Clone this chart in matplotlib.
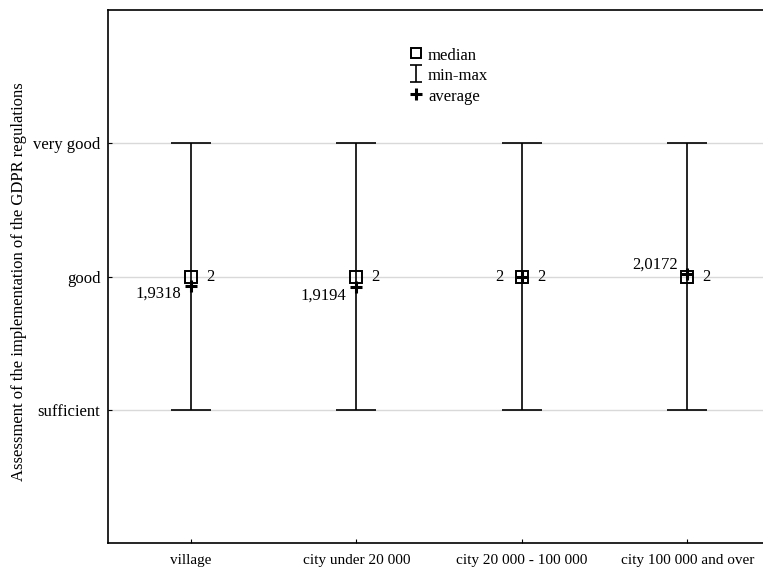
import numpy as np
import matplotlib
matplotlib.use('Agg')
import matplotlib.pyplot as plt
from matplotlib.lines import Line2D

matplotlib.rcParams.update({
    'font.family': 'serif',
    'font.serif': ['Liberation Serif', 'DejaVu Serif'],
    'font.size': 12,
    'xtick.direction': 'in',
    'ytick.direction': 'in',
    'xtick.major.size': 3,
    'ytick.major.size': 3,
})

# ── data ──────────────────────────────────────────────────────────────────
categories = ['village', 'city under 20 000', 'city 20 000 - 100 000',
              'city 100 000 and over']
medians  = [2, 2, 2, 2]
mins     = [1, 1, 1, 1]
maxs     = [3, 3, 3, 3]
averages = [1.9318, 1.9194, 2.0, 2.0172]
ytick_vals   = [1, 2, 3]
ytick_labels = ['sufficient', 'good', 'very good']


def fmt(v):
    if float(v).is_integer():
        return str(int(v))
    return f'{v:.4f}'.replace('.', ',')


fig = plt.figure(figsize=(7.63, 5.67), dpi=100)
ax = fig.add_axes([0.1415, 0.0423, 0.868, 0.940])

x = np.arange(len(categories))
med = np.array(medians, dtype=float)
lo = med - np.array(mins)
hi = np.array(maxs) - med

ax.errorbar(x, med, yerr=[lo, hi], fmt='none', ecolor='black',
            elinewidth=1.2, capsize=14.4, capthick=1.2, zorder=3)
ax.plot(x, averages, linestyle='none', marker='+', ms=8, mew=2.2,
        color='black', zorder=4)
ax.plot(x, medians, linestyle='none', marker='s', ms=8, mew=1.4,
        mfc='none', mec='black', zorder=5)

# value labels
for xi, m, a in zip(x, medians, averages):
    ax.annotate(fmt(m), (xi, m), xytext=(11, 0), textcoords='offset points',
                ha='left', va='center', fontsize=12)
    if a == m:
        off = (-13, 0)
    else:
        off = (-7, -6 if a < m else 7)
    ax.annotate(fmt(a), (xi, a), xytext=off, textcoords='offset points',
                ha='right', va='center', fontsize=12)

ax.set_xlim(-0.5, len(categories) - 0.5)
ax.set_ylim(0, 4)
ax.set_xticks(x)
ax.set_xticklabels(categories, fontsize=11)
ax.set_yticks(ytick_vals)
ax.set_yticklabels(ytick_labels)
ax.tick_params(axis='x', pad=8)
ax.tick_params(axis='y', pad=5.5)
ax.grid(True, axis='y', color='#d9d9d9', lw=1.0, zorder=0)
ax.set_axisbelow(True)
ax.set_ylabel('Assessment of the implementation of the GDPR regulations')
ax.yaxis.set_label_coords(-0.122, 0.49)
for s in ax.spines.values():
    s.set_linewidth(1.2)

# legend handles
h_med = Line2D([], [], linestyle='none', marker='s', ms=7, mew=1.4,
               mfc='none', mec='black')
h_rng = ax.errorbar([np.nan], [np.nan], yerr=[np.nan], fmt='none',
                    ecolor='black', elinewidth=1.2, capsize=4, capthick=1.2)
h_avg = Line2D([], [], linestyle='none', marker='+', ms=8, mew=2.2,
               color='black')
ax.legend([h_med, h_rng, h_avg], ['median', 'min-max', 'average'],
          loc='center', bbox_to_anchor=(0.515, 0.877), frameon=False,
          handlelength=0.8, handleheight=1.0, handletextpad=0.3,
          labelspacing=0.2, borderpad=0, fontsize=12)

fig.savefig('out.png', dpi=100, facecolor='white')
